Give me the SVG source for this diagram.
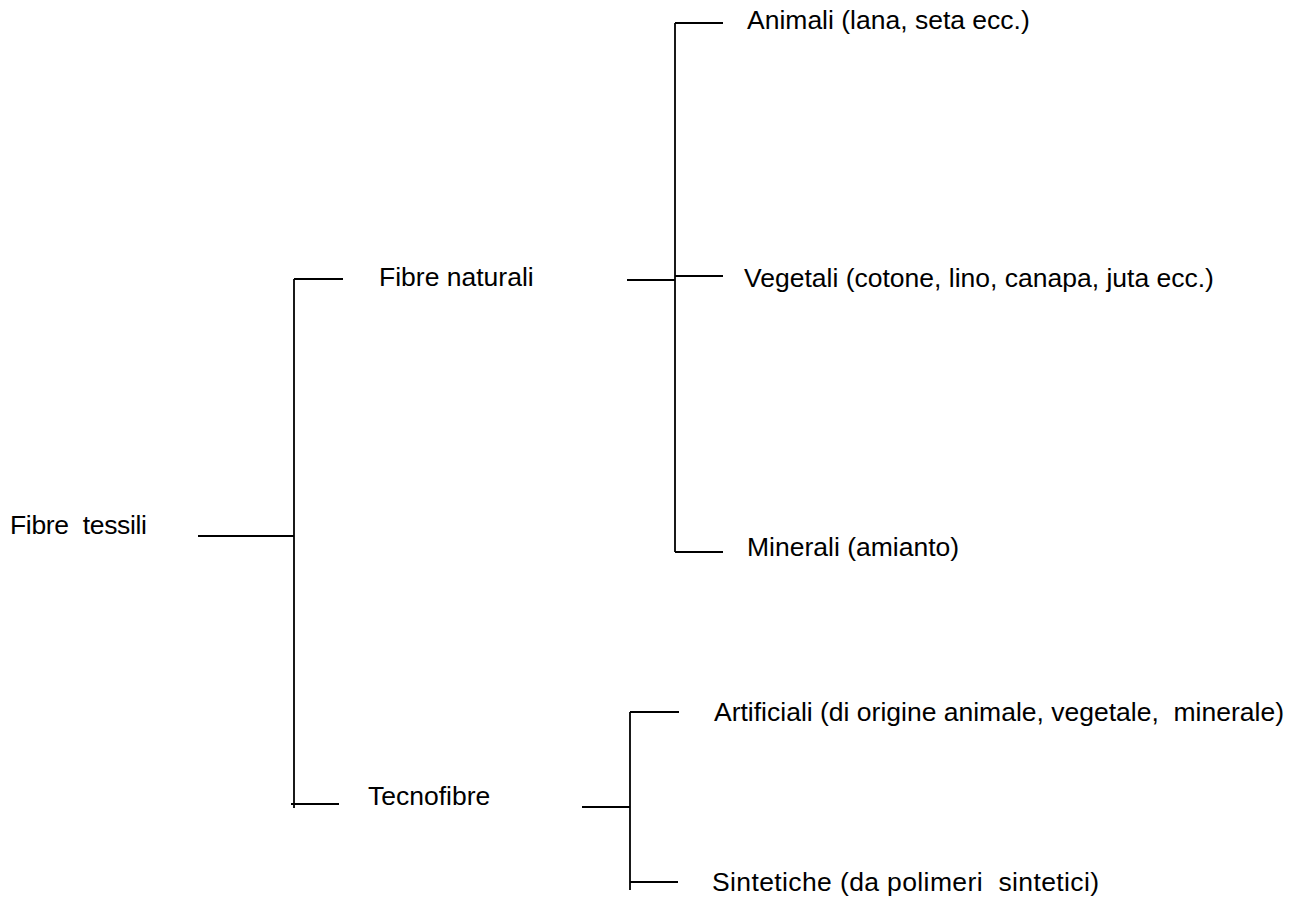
<svg xmlns="http://www.w3.org/2000/svg" width="1289" height="897" viewBox="0 0 1289 897">
<style>
text { font-family: "Liberation Sans", Arial, sans-serif; font-size: 26.5px; fill: #000; white-space: pre; }
.c line { stroke: #000; stroke-width: 1.8; fill: none; }
</style>
<rect width="1289" height="897" fill="#fff"/>
<g id="connectors" class="c">
<line x1="198" y1="536" x2="294" y2="536"/>
<line x1="294" y1="279" x2="294" y2="808"/>
<line x1="294" y1="279" x2="343" y2="279"/>
<line x1="291" y1="804" x2="339" y2="804"/>
<line x1="627" y1="280" x2="675" y2="280"/>
<line x1="675" y1="23" x2="675" y2="552"/>
<line x1="675" y1="23" x2="723" y2="23"/>
<line x1="675" y1="276" x2="723" y2="276"/>
<line x1="675" y1="552" x2="723" y2="552"/>
<line x1="582" y1="807" x2="630" y2="807"/>
<line x1="630" y1="712" x2="630" y2="890"/>
<line x1="630" y1="712" x2="679" y2="712"/>
<line x1="630" y1="882" x2="678" y2="882"/>
</g>
<g id="fibre-tessili"><text x="10" y="534" textLength="137" lengthAdjust="spacing">Fibre  tessili</text></g>
<g id="fibre-naturali"><text x="379" y="286">Fibre naturali</text></g>
<g id="animali"><text x="747" y="29">Animali (lana, seta ecc.)</text></g>
<g id="vegetali"><text x="744" y="287">Vegetali (cotone, lino, canapa, juta ecc.)</text></g>
<g id="minerali"><text x="747" y="556">Minerali (amianto)</text></g>
<g id="tecnofibre"><text x="368" y="805">Tecnofibre</text></g>
<g id="artificiali"><text x="714" y="721">Artificiali (di origine animale, vegetale,  minerale)</text></g>
<g id="sintetiche"><text x="712" y="891" textLength="387" lengthAdjust="spacing">Sintetiche (da polimeri  sintetici)</text></g>
</svg>
